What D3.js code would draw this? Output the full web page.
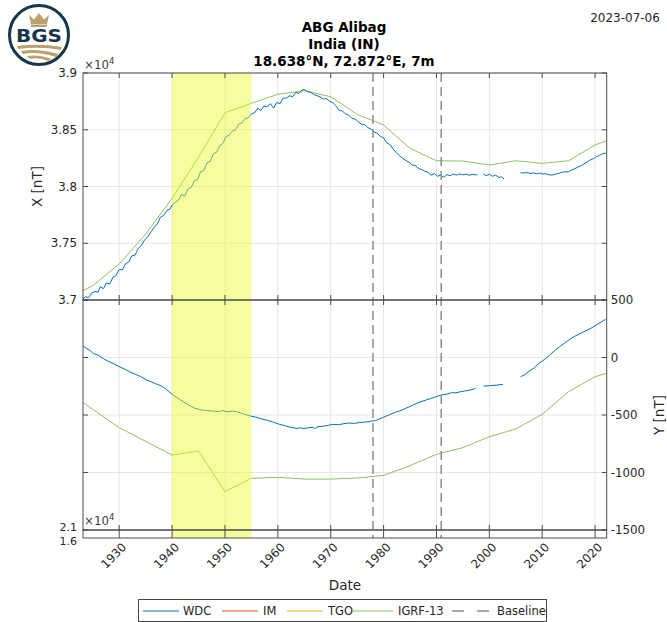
<!DOCTYPE html>
<html><head><meta charset="utf-8">
<script src="https://cdn.jsdelivr.net/npm/d3@7/dist/d3.min.js"></script>
<style>
html,body{margin:0;padding:0;background:#fff;}
svg text{font-family:"DejaVu Sans",sans-serif;}
</style></head>
<body><svg id="c" width="667" height="622"></svg>
<script>
// ---------------- data ----------------
const xTicksYears = [1930,1940,1950,1960,1970,1980,1990,2000,2010,2020];
const xTickLabels = ["1930","1940","1950","1960","1970","1980","1990","2000","2010","2020"];
const topTicks = [37000,37500,38000,38500,39000];
const topTickLabels = ["3.7","3.75","3.8","3.85","3.9"];
const botTicks = [-1500,-1000,-500,0,500];
const botTickLabels = ["-1500","-1000","-500","0","500"];
const zTickLabels = ["2.1","1.6"];
const baselineYears = [1978.0, 1990.9];
const highlightYears = [1940, 1955];
const legendNames = ["WDC","IM","TGO","IGRF-13","Baseline"];

// X component, WDC (segments separated by data gaps)
const wdcX = [
 [[1923.1,37005],[1923.6,37030],[1924.2,37020],[1924.8,37060],[1925.4,37075],[1926.0,37070],[1926.4,37117],[1927.0,37100],[1927.6,37150],[1928.2,37140],[1928.8,37200],[1929.4,37215],[1930.0,37270],[1930.6,37265],[1931.2,37320],[1931.8,37335],[1932.4,37390],[1933.0,37395],[1933.6,37455],[1934.2,37480],[1934.8,37530],[1935.4,37555],[1936.0,37600],[1936.6,37640],[1937.2,37670],[1937.8,37730],[1938.4,37745],[1939.0,37790],[1939.6,37800],[1940.0,37837],[1940.6,37860],[1941.2,37880],[1941.8,37930],[1942.4,37915],[1943.0,37980],[1943.6,37990],[1944.2,38050],[1944.8,38060],[1945.4,38130],[1946.0,38140],[1946.6,38210],[1947.2,38220],[1947.8,38290],[1948.4,38300],[1949.0,38360],[1949.6,38380],[1950.2,38440],[1950.8,38450],[1951.4,38490],[1952.0,38500],[1952.6,38550],[1953.2,38560],[1953.8,38600],[1954.4,38605],[1955.0,38640],[1955.6,38650],[1956.2,38690],[1956.8,38670],[1957.4,38710],[1958.0,38700],[1958.6,38730],[1959.2,38690],[1959.8,38740],[1960.4,38730],[1961.0,38780],[1961.6,38777],[1962.2,38800],[1962.8,38790],[1963.4,38830],[1964.0,38820],[1964.6,38850],[1965.0,38855],[1965.6,38835],[1966.2,38830],[1966.8,38810],[1967.4,38800],[1968.0,38790],[1968.6,38770],[1969.2,38775],[1969.8,38750],[1970.4,38740],[1971.0,38710],[1971.6,38670],[1972.2,38665],[1972.8,38640],[1973.4,38630],[1974.0,38600],[1974.6,38595],[1975.2,38570],[1975.8,38550],[1976.4,38545],[1977.0,38520],[1977.6,38505],[1978.2,38480],[1978.8,38470],[1979.4,38440],[1980.0,38430],[1980.6,38385],[1981.2,38370],[1981.8,38330],[1982.4,38300],[1983.0,38270],[1983.6,38250],[1984.2,38230],[1984.8,38215],[1985.4,38190],[1986.0,38185],[1986.6,38160],[1987.2,38150],[1987.8,38135],[1988.4,38125],[1989.0,38100],[1989.6,38115],[1990.2,38090],[1990.8,38100],[1991.4,38080],[1992.0,38105],[1992.6,38095],[1993.2,38110],[1993.8,38100],[1994.4,38112],[1995.0,38103],[1995.6,38110],[1996.2,38098],[1996.8,38108],[1997.4,38102],[1997.8,38107]],
 [[1998.9,38110],[1999.4,38095],[2000.0,38108],[2000.6,38090],[2001.2,38100],[2001.8,38080],[2002.3,38085],[2002.8,38065]],
 [[2005.9,38122],[2006.5,38118],[2007.1,38124],[2007.7,38115],[2008.3,38120],[2008.9,38112],[2009.5,38118],[2010.1,38110],[2010.7,38112],[2011.3,38103],[2011.9,38100],[2012.5,38110],[2013.1,38115],[2013.7,38125],[2014.3,38130],[2014.9,38128],[2015.5,38145],[2016.1,38155],[2016.7,38170],[2017.3,38180],[2017.9,38200],[2018.5,38215],[2019.1,38235],[2019.7,38245],[2020.3,38265],[2020.9,38275],[2021.5,38290],[2022.1,38295]]
];
// X component, IGRF-13
const igrfX = [[1923.1,37082],[1925,37126],[1930,37317],[1935,37581],[1940,37896],[1945,38257],[1950,38650],[1955,38733],[1960,38812],[1965,38844],[1970,38791],[1975,38636],[1980,38542],[1985,38336],[1990,38227],[1995,38224],[2000,38189],[2005,38227],[2010,38204],[2015,38227],[2020,38366],[2022.2,38404]];
// Y component, WDC
const wdcY = [
 [[1923.1,103],[1923.8,80],[1924.5,60],[1925.1,36],[1926.0,20],[1927.0,-10],[1928.0,-35],[1929.0,-55],[1930.0,-80],[1931.0,-100],[1932.0,-125],[1933.0,-145],[1934.0,-165],[1935.2,-196],[1936.0,-210],[1937.0,-230],[1938.0,-248],[1939.0,-280],[1940.0,-320],[1941.0,-350],[1942.1,-384],[1943.2,-415],[1944.3,-442],[1945.5,-455],[1946.5,-462],[1947.7,-465],[1948.5,-470],[1949.5,-463],[1950.5,-472],[1951.5,-466],[1952.2,-471],[1953.5,-490],[1954.8,-509],[1956.0,-520],[1957.0,-535],[1957.8,-543],[1959.0,-560],[1960.3,-581],[1961.5,-595],[1962.5,-608],[1963.5,-616],[1964.3,-612],[1965.0,-618],[1965.8,-610],[1966.6,-607],[1967.0,-620],[1967.4,-603],[1968.5,-598],[1969.5,-590],[1970.4,-581],[1971.5,-585],[1972.5,-575],[1973.4,-570],[1974.5,-573],[1975.5,-565],[1976.5,-562],[1977.5,-555],[1978.5,-548],[1979.8,-523],[1981.0,-500],[1982.0,-480],[1983.0,-465],[1984.2,-442],[1985.5,-415],[1986.7,-390],[1988.0,-370],[1989.0,-355],[1989.9,-341],[1991.0,-325],[1992.0,-318],[1993.0,-305],[1993.7,-308],[1994.5,-298],[1995.5,-290],[1996.5,-282],[1997.4,-268]],
 [[1998.9,-248],[2000.0,-246],[2000.5,-243],[2001.5,-240],[2002.6,-233]],
 [[2005.9,-167],[2006.7,-150],[2007.5,-120],[2008.5,-90],[2009.4,-51],[2010.5,-15],[2011.5,25],[2012.5,65],[2013.5,100],[2014.5,135],[2016.0,181],[2017.5,215],[2019.4,259],[2020.5,290],[2022.0,332]]
];
// Y component, IGRF-13
const igrfY = [[1923.1,-390],[1930,-610],[1940,-848],[1945,-813],[1950,-1167],[1955,-1051],[1960,-1042],[1965,-1057],[1970,-1057],[1975,-1048],[1980,-1025],[1985,-941],[1990,-842],[1995,-784],[2000,-689],[2005,-622],[2010,-494],[2015,-297],[2020,-167],[2022.2,-137]];

// ---------------- layout ----------------
const svg = d3.select("#c");
const L = 83, R = 606.7, T0 = 73, T1 = 300, B1 = 530, Z1 = 538;
const colWDC = "#0072BD", colIM = "#D95319", colTGO = "#EDB120", colIGRF = "#8fc15a", axisCol = "#4d4d4d", gridCol = "#e6e6e6", txtCol = "#262626";
const fs = 11.8;

const x = d3.scaleLinear().domain([1923.15, 2022.2]).range([L, R]);
const yTop = d3.scaleLinear().domain([37000, 39000]).range([T1, T0]);
const yBot = d3.scaleLinear().domain([-1500, 500]).range([B1, T1]);
const yZ = d3.scaleLinear().domain([16000, 21000]).range([Z1, B1]);

const defs = svg.append("defs");
defs.append("clipPath").attr("id","clipTop").append("rect").attr("x",L).attr("y",T0).attr("width",R-L).attr("height",T1-T0);
defs.append("clipPath").attr("id","clipBot").append("rect").attr("x",L).attr("y",T1).attr("width",R-L).attr("height",B1-T1);

// grids
function grid(yScale, ticks, y0, y1) {
  const g = svg.append("g");
  g.selectAll(".gv").data(xTicksYears).enter().append("line")
    .attr("x1", d => x(d)).attr("x2", d => x(d)).attr("y1", y0).attr("y2", y1)
    .attr("stroke", gridCol).attr("stroke-width", 1);
  g.selectAll(".gh").data(ticks).enter().append("line")
    .attr("x1", L).attr("x2", R).attr("y1", d => yScale(d)).attr("y2", d => yScale(d))
    .attr("stroke", gridCol).attr("stroke-width", 1);
}
grid(yTop, topTicks, T0, T1);
grid(yBot, botTicks, T1, B1);

// lines
function drawLines(clip, yScale, segs, color, w) {
  const line = d3.line().x(d => x(d[0])).y(d => yScale(d[1]));
  svg.append("g").attr("clip-path", `url(#${clip})`).selectAll("path").data(segs).enter().append("path")
    .attr("d", line).attr("fill","none").attr("stroke", color).attr("stroke-width", w).attr("stroke-linejoin","round");
}
drawLines("clipTop", yTop, [igrfX], colIGRF, 1);
drawLines("clipTop", yTop, wdcX, colWDC, 1);
drawLines("clipBot", yBot, [igrfY], colIGRF, 1);
drawLines("clipBot", yBot, wdcY, colWDC, 1);

// highlight band (translucent yellow, over the lines)
svg.append("rect").attr("x", x(highlightYears[0])).attr("y", T0)
  .attr("width", x(highlightYears[1]) - x(highlightYears[0])).attr("height", Z1 - T0)
  .attr("fill", "#e8fa28").attr("opacity", 0.45);

// baseline dashed lines
svg.selectAll(".bl").data(baselineYears).enter().append("line")
  .attr("x1", d => x(d)).attr("x2", d => x(d)).attr("y1", T0).attr("y2", Z1)
  .attr("stroke", "#8c8c8c").attr("stroke-width", 1.5).attr("stroke-dasharray", "9,5");

// axes boxes & ticks
function box(y0, y1) {
  svg.append("rect").attr("x", L).attr("y", y0).attr("width", R - L).attr("height", y1 - y0)
    .attr("fill", "none").attr("stroke", axisCol).attr("stroke-width", 1);
}
box(T0, T1); box(T1, B1); box(B1, Z1);
const tl = 5;
function xTickMarks(yEdge, dir) {
  svg.append("g").selectAll("line").data(xTicksYears).enter().append("line")
    .attr("x1", d => x(d)).attr("x2", d => x(d)).attr("y1", yEdge).attr("y2", yEdge + dir * tl)
    .attr("stroke", axisCol).attr("stroke-width", 1);
}
xTickMarks(T0, 1); xTickMarks(T1, -1); xTickMarks(T1, 1); xTickMarks(B1, -1);
svg.append("g").selectAll("line").data(xTicksYears).enter().append("line")
  .attr("x1", d => x(d)).attr("x2", d => x(d)).attr("y1", B1).attr("y2", Z1)
  .attr("stroke", axisCol).attr("stroke-width", 1);

function yTickMarks(yScale, ticks) {
  const g = svg.append("g");
  g.selectAll(".l").data(ticks).enter().append("line")
    .attr("x1", L).attr("x2", L + tl).attr("y1", d => yScale(d)).attr("y2", d => yScale(d))
    .attr("stroke", axisCol);
  g.selectAll(".r").data(ticks).enter().append("line")
    .attr("x1", R).attr("x2", R - tl).attr("y1", d => yScale(d)).attr("y2", d => yScale(d))
    .attr("stroke", axisCol);
}
yTickMarks(yTop, topTicks); yTickMarks(yBot, botTicks);

// tick labels
svg.append("g").selectAll("text").data(topTicks).enter().append("text")
  .attr("x", L - 6).attr("y", d => yTop(d)).attr("dy", "0.35em").attr("text-anchor", "end")
  .attr("font-size", fs).attr("fill", txtCol).text((d, i) => topTickLabels[i]);
svg.append("g").selectAll("text").data(botTicks).enter().append("text")
  .attr("x", R + 4).attr("y", d => yBot(d)).attr("dy", "0.35em").attr("text-anchor", "start")
  .attr("font-size", fs).attr("fill", txtCol).text((d, i) => botTickLabels[i]);
svg.append("g").selectAll("text").data([21000, 16000]).enter().append("text")
  .attr("x", L - 6).attr("y", (d, i) => yZ(d) + (i === 0 ? -3 : 3)).attr("dy", "0.35em").attr("text-anchor", "end")
  .attr("font-size", 11).attr("fill", txtCol).text((d, i) => zTickLabels[i]);
svg.append("g").selectAll("text").data(xTicksYears).enter().append("text")
  .attr("transform", d => `translate(${x(d) + 5},${Z1 + 7}) rotate(-45)`)
  .attr("text-anchor", "end").attr("dy", "0.35em")
  .attr("font-size", fs).attr("fill", txtCol).text((d, i) => xTickLabels[i]);

// exponent labels
function expo(xp, yp) {
  const t = svg.append("text").attr("x", xp).attr("y", yp).attr("font-size", fs).attr("fill", "#404040");
  t.append("tspan").text("\u00d710");
  t.append("tspan").attr("font-size", 8.5).attr("dy", -5).text("4");
}
expo(L + 1, T0 - 4);
expo(L + 1, B1 - 5);

// axis labels
svg.append("text").attr("transform", `translate(42,${(T0 + T1) / 2}) rotate(-90)`).attr("text-anchor", "middle")
  .attr("font-size", 13.5).attr("fill", txtCol).text("X [nT]");
svg.append("text").attr("transform", `translate(664,${(T1 + B1) / 2}) rotate(-90)`).attr("text-anchor", "middle")
  .attr("font-size", 13.5).attr("fill", txtCol).text("Y [nT]");
svg.append("text").attr("x", 345).attr("y", 590).attr("text-anchor", "middle")
  .attr("font-size", 13.5).attr("fill", txtCol).text("Date");

// titles
const titles = ["ABG Alibag", "India (IN)", "18.638\u00b0N, 72.872\u00b0E, 7m"];
svg.append("g").selectAll("text").data(titles).enter().append("text")
  .attr("x", 344).attr("y", (d, i) => 32 + i * 17).attr("text-anchor", "middle")
  .attr("font-size", 13.5).attr("font-weight", "bold").attr("fill", "#000").text(d => d);
svg.append("text").attr("x", 625).attr("y", 22).attr("text-anchor", "middle")
  .attr("font-size", 12).attr("fill", txtCol).text("2023-07-06");

// legend
const lg = svg.append("g");
lg.append("rect").attr("x", 138.5).attr("y", 599.5).attr("width", 408).attr("height", 22)
  .attr("fill", "#fff").attr("stroke", "#444").attr("stroke-width", 1);
const legItems = [
  {c: colWDC, x1: 143, x2: 179, tx: 183, dash: null},
  {c: colIM, x1: 222, x2: 258, tx: 263, dash: null},
  {c: colTGO, x1: 287, x2: 323, tx: 328, dash: null},
  {c: colIGRF, x1: 352, x2: 393, tx: 398, dash: null},
  {c: "#8c8c8c", x1: 452, x2: 489, tx: 497, dash: "12,13"}
];
legItems.forEach((it, i) => {
  lg.append("line").attr("x1", it.x1).attr("x2", it.x2).attr("y1", 611).attr("y2", 611)
    .attr("stroke", it.c).attr("stroke-width", it.dash ? 1.3 : 1).attr("stroke-dasharray", it.dash);
  lg.append("text").attr("x", it.tx).attr("y", 611).attr("dy", "0.35em")
    .attr("font-size", 11.5).attr("fill", txtCol).text(legendNames[i]);
});

// logo
const logo = svg.append("g").attr("transform", "translate(39,35)");
const navy = "#17364b", gold = "#b9a26e";
logo.append("circle").attr("r", 29.5).attr("fill", "#fff").attr("stroke", navy).attr("stroke-width", 3);
logo.append("path").attr("d", "M-8,-11 L-10,-20 L-5,-15.5 L0,-22 L5,-15.5 L10,-20 L8,-11 Z").attr("fill", gold);
logo.append("rect").attr("x", -8).attr("y", -10.5).attr("width", 16).attr("height", 2.5).attr("fill", gold);
logo.append("text").attr("x", 0).attr("y", 7).attr("text-anchor", "middle").attr("font-size", 17)
  .attr("font-weight", "bold").attr("textLength", 46).attr("lengthAdjust", "spacingAndGlyphs")
  .attr("fill", navy).attr("stroke", "#fff").attr("stroke-width", 2.5).attr("paint-order", "stroke").text("BGS");
logo.append("path").attr("d", "M-22,11 Q0,8 23,12 L22,15 Q0,11 -21,14 Z").attr("fill", gold);
logo.append("path").attr("d", "M-18,16 Q-2,13 20,19 L17,22 Q-2,16 -16,19 Z").attr("fill", gold);
logo.append("path").attr("d", "M-12,21 Q0,19 13,24 L9,26 Q0,22 -9,24 Z").attr("fill", gold);
</script></body></html>
